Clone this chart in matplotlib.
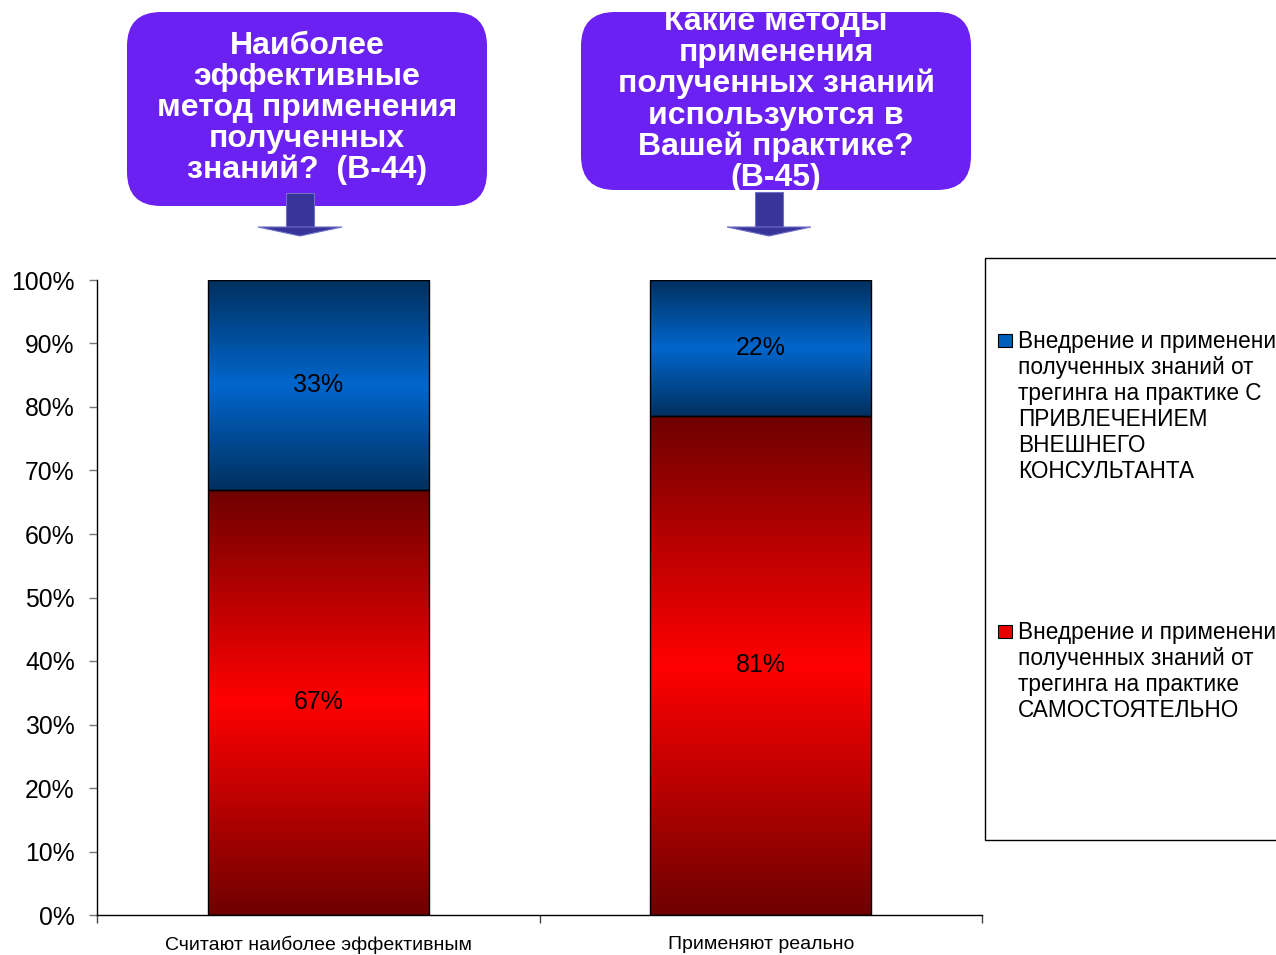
import numpy as np
import matplotlib
matplotlib.use("Agg")
import matplotlib.pyplot as plt
from matplotlib.colors import LinearSegmentedColormap
from matplotlib.patches import FancyBboxPatch, Rectangle, Polygon
from matplotlib.ticker import FixedLocator, PercentFormatter

plt.rcParams["font.family"] = ["Liberation Sans", "DejaVu Sans"]

# ---- data -------------------------------------------------------------
categories = ["Считают наиболее эффективным", "Применяют реально"]
self_pct = [67, 81]        # САМОСТОЯТЕЛЬНО
consult_pct = [33, 22]     # С ПРИВЛЕЧЕНИЕМ ВНЕШНЕГО КОНСУЛЬТАНТА
series_self = ("Внедрение и применение\nполученных знаний от\n"
               "трегинга на практике\nСАМОСТОЯТЕЛЬНО")
series_consult = ("Внедрение и применение\nполученных знаний от\n"
                  "трегинга на практике С\nПРИВЛЕЧЕНИЕМ\nВНЕШНЕГО\nКОНСУЛЬТАНТА")
y_ticks = [0, 10, 20, 30, 40, 50, 60, 70, 80, 90, 100]
question_1 = "Наиболее\nэффективные\nметод применения\nполученных\nзнаний?  (В-44)"
question_2 = ("Какие методы\nприменения\nполученных знаний\nиспользуются в\n"
              "Вашей практике?\n(В-45)")

# ---- figure -----------------------------------------------------------
W, H = 1276, 955
fig = plt.figure(figsize=(W / 100, H / 100), dpi=100)
ax = fig.add_axes([97 / W, 1 - 915 / H, (982 - 97) / W, (915 - 280) / H])

red_cmap = LinearSegmentedColormap.from_list("red", ["#6e0000", "#ff0000"])
blue_cmap = LinearSegmentedColormap.from_list("blue", ["#00305f", "#0066cc"])
t = np.linspace(0, 1, 256)
profile = (1 - np.abs(2 * t - 1))[:, None]

x = np.arange(len(categories))
width = 0.5
self_arr = np.array(self_pct, float)
cons_arr = np.array(consult_pct, float)
total = self_arr + cons_arr
self_share = self_arr / total * 100
cons_share = cons_arr / total * 100


def gradient_bars(heights, bottoms, cmap, labels):
    bars = ax.bar(x, heights, width, bottom=bottoms, facecolor="none",
                  edgecolor="black", linewidth=1.0, zorder=3)
    for rect, lab in zip(bars, labels):
        x0, y0 = rect.get_x(), rect.get_y()
        w, h = rect.get_width(), rect.get_height()
        im = ax.imshow(profile, extent=[x0, x0 + w, y0, y0 + h], aspect="auto",
                       cmap=cmap, vmin=0, vmax=1, zorder=2, interpolation="bilinear")
        im.set_clip_path(rect)
        ax.text(x0 + w / 2, y0 + h / 2, f"{lab:.0f}%", ha="center", va="center",
                fontsize=18, color="black", zorder=4)


gradient_bars(self_share, np.zeros_like(self_share), red_cmap, self_arr)
gradient_bars(cons_share, self_share, blue_cmap, cons_arr)

ax.set_xlim(-0.5, len(categories) - 0.5)
ax.set_ylim(0, 100)
ax.yaxis.set_major_locator(FixedLocator(y_ticks))
ax.yaxis.set_major_formatter(PercentFormatter(decimals=0))
ax.tick_params(axis="y", direction="out", length=6, width=1, color="#777777",
               labelsize=17.8, pad=10)
ax.set_xticks(x)
ax.set_xticklabels(categories, fontsize=14)
ax.tick_params(axis="x", which="major", length=0, pad=15)
ax.set_xticks(np.arange(-0.5, len(categories)), minor=True)
ax.tick_params(axis="x", which="minor", direction="out", length=6, width=1,
               color="#444444")
for side in ("top", "right"):
    ax.spines[side].set_visible(False)
for side in ("left", "bottom"):
    ax.spines[side].set_color("black")
    ax.spines[side].set_linewidth(1)

# ---- overlay in pixel coordinates for callouts and legend --------------
ov = fig.add_axes([0, 0, 1, 1], zorder=5)
ov.set_xlim(0, W)
ov.set_ylim(H, 0)
ov.axis("off")
ov.patch.set_alpha(0)

callout_color = "#6b21f2"
arrow_color = "#37349a"


def callout(x0, y0, x1, y1, text, cx, cy, ax_x, stem_top):
    box = FancyBboxPatch((x0, y0), x1 - x0, y1 - y0,
                         boxstyle="round,pad=0,rounding_size=34",
                         facecolor=callout_color, edgecolor="none")
    ov.add_patch(box)
    ov.text(cx, cy, text, ha="center", va="center", color="white",
            fontsize=23, fontweight="bold", linespacing=1.045)
    stem = Rectangle((ax_x - 14, stem_top), 28, 228 - stem_top,
                     facecolor=arrow_color, edgecolor="#6f6fc8", linewidth=0.8)
    ov.add_patch(stem)
    head = Polygon([(ax_x - 42, 227), (ax_x + 42, 227), (ax_x, 236)],
                   closed=True, facecolor=arrow_color, edgecolor="#6f6fc8",
                   linewidth=0.8)
    ov.add_patch(head)


callout(127, 12, 487, 206, question_1, 307, 108, 300, 193)
callout(581, 12, 971, 190, question_2, 776, 100, 769, 192)

# legend frame and entries
ov.add_patch(Rectangle((985, 258), 400, 582, facecolor="white",
                       edgecolor="black", linewidth=1, zorder=1))
for top, label, cmap in ((330, series_consult, blue_cmap),
                         (621, series_self, red_cmap)):
    ov.add_patch(Rectangle((998, top + 4), 14, 13,
                           facecolor=cmap(0.85), edgecolor="black",
                           linewidth=0.8, zorder=2))
    ov.text(1018, top, label, ha="left", va="top", fontsize=16.3,
            color="black", linespacing=1.17, zorder=3)

fig.savefig("out.png", dpi=100)
